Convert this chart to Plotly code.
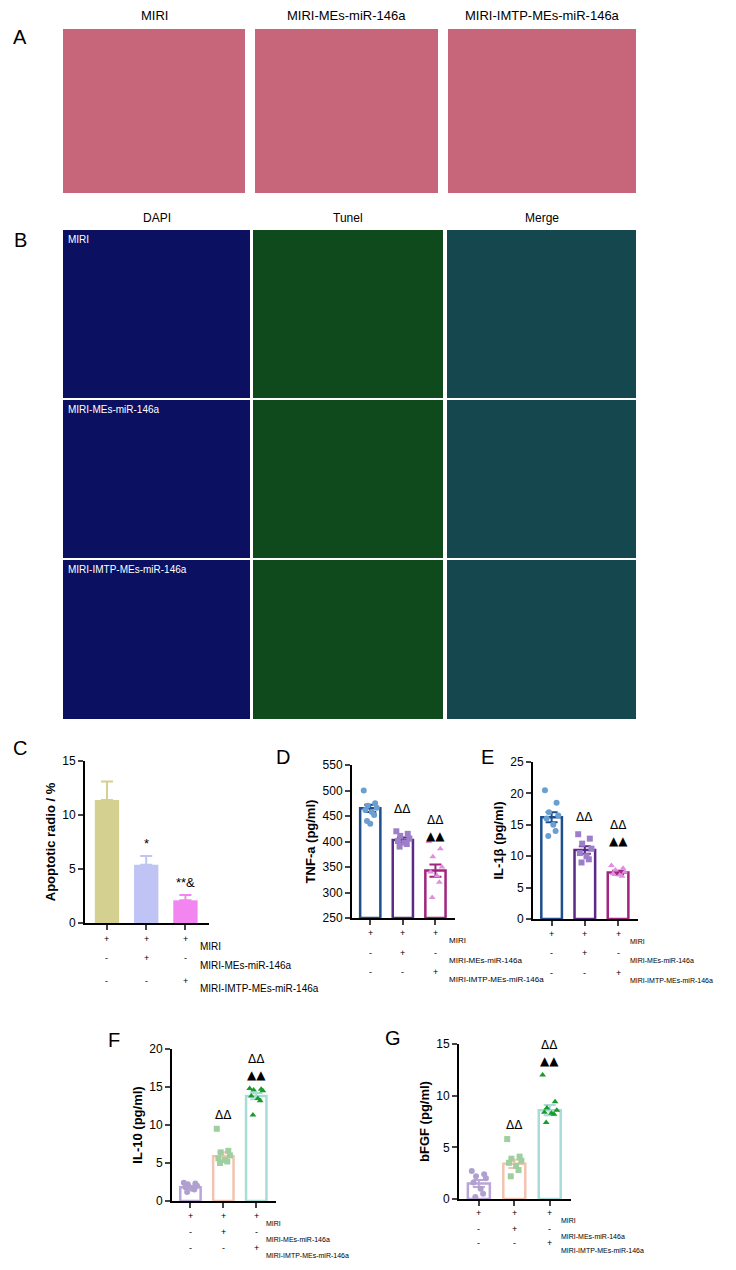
import plotly.graph_objects as go

W, H = 736, 1270
PAGE_PAD = 8  # default body margin of the html page

# ---- panel A / B labels (microscopy images shown as plain tiles) ----
he_titles = ["MIRI", "MIRI-MEs-miR-146a", "MIRI-IMTP-MEs-miR-146a"]
stain_titles = ["DAPI", "Tunel", "Merge"]
stain_colors = ["#0b1060", "#0f4a1c", "#15474f"]
he_color = "#c7667a"

# ---- panel data ----
groups = [0, 1, 2]
row_names = ["MIRI", "MIRI-MEs-miR-146a", "MIRI-IMTP-MEs-miR-146a"]
row_signs = [["+", "+", "+"], ["-", "+", "-"], ["-", "-", "+"]]

apo_mean = [11.4, 5.4, 2.1]
apo_err = [1.7, 0.8, 0.5]
apo_marks = ["", "*", "**&"]

tnf_mean = [465, 403, 343]
tnf_err = [7, 5, 12]
tnf_pts = [[500, 475, 470, 466, 462, 458, 452, 440, 435],
           [420, 415, 411, 406, 401, 398, 395, 390],
           [400, 386, 370, 350, 340, 333, 320, 290]]

il1_mean = [16.2, 11.0, 7.4]
il1_err = [0.8, 0.6, 0.3]
il1_pts = [[20.5, 18.5, 17.0, 16.5, 16.0, 15.0, 14.0, 13.2],
           [13.5, 12.8, 12.0, 11.2, 10.5, 10.0, 9.5, 9.0],
           [8.5, 8.1, 7.8, 7.5, 7.2, 7.0, 6.8]]

il10_mean = [1.8, 5.9, 13.8]
il10_err = [0.2, 0.5, 0.4]
il10_pts = [[2.4, 2.3, 2.2, 2.0, 1.8, 1.6, 1.5, 1.2],
            [9.5, 6.6, 6.4, 6.0, 5.6, 5.4, 5.2, 5.0],
            [14.8, 14.7, 14.6, 14.5, 13.8, 13.5, 13.2, 11.3]]

bfgf_mean = [1.5, 3.4, 8.6]
bfgf_err = [0.35, 0.4, 0.5]
bfgf_pts = [[2.7, 2.4, 2.2, 2.0, 1.6, 1.0, 0.5, 0.2],
            [5.8, 4.1, 3.9, 3.7, 3.5, 3.2, 2.8, 2.2],
            [12.0, 9.4, 8.8, 8.6, 8.4, 8.3, 8.2, 7.4]]
jitter = [-0.2, 0.15, -0.08, 0.2, -0.15, 0.05, 0.12, -0.1, 0.0]

FONT = "Liberation Sans"
fig = go.Figure()
shapes, annos = [], []


def px_x(x):
    return (x - PAGE_PAD) / W


def px_y(y):
    return 1 - (y - PAGE_PAD) / H


def tile(x0, y0, x1, y1, color):
    shapes.append(dict(type="rect", xref="paper", yref="paper", x0=px_x(x0), x1=px_x(x1),
                       y0=px_y(y1), y1=px_y(y0), fillcolor=color, line=dict(width=0)))


def text(x, y, s, size=12, color="black", xanchor="center"):
    annos.append(dict(x=px_x(x), y=px_y(y), xref="paper", yref="paper", text=s, showarrow=False,
                      font=dict(size=size, color=color, family=FONT), xanchor=xanchor, yanchor="middle"))


# panel A
text(20, 37, "A", 20)
for i, (x0, x1) in enumerate([(63, 245), (255, 438), (448, 636)]):
    text((x0 + x1) / 2, 16, he_titles[i], 13)
    tile(x0, 29, x1, 193, he_color)
# panel B
text(20, 240, "B", 20)
cols = [(63, 250), (253, 443), (447, 636)]
rows = [(230, 398), (400, 558), (560, 719)]
for j, (x0, x1) in enumerate(cols):
    text((x0 + x1) / 2, 218, stain_titles[j], 12)
    for (y0, y1) in rows:
        tile(x0, y0, x1, y1, stain_colors[j])
for k, (y0, y1) in enumerate(rows):
    text(66, y0 + 9, he_titles[k], 10, "white", "left")

panels = [
    dict(n=1, L="C", lab=(20, 748), ax=(85, 209), ay=(761, 923), rng=[0, 15], dt=5,
         title="Apoptotic radio / %", mean=apo_mean, err=apo_err, pts=None,
         fill=["#d4d08f", "#c0c4f4", "#f385f0"], line=["#d4d08f", "#c0c4f4", "#f385f0"],
         pc=None, rows_y=(946, 965, 988), lab_x=198, lab_size=10),
    dict(n=2, L="D", lab=(283, 757), ax=(352, 455), ay=(765, 918), rng=[250, 550], dt=50,
         title="TNF-a (pg/ml)", mean=tnf_mean, err=tnf_err, pts=tnf_pts,
         fill=["white"] * 3, line=["#1f4e8c", "#5b2a86", "#a0257f"],
         pc=["#6a9fd0", "#9d7fc9", "#e08ee0"], rows_y=(940, 960, 979), lab_x=447, lab_size=8),
    dict(n=3, L="E", lab=(487, 757), ax=(533, 638), ay=(762, 919), rng=[0, 25], dt=5,
         title="IL-1β (pg/ml)", mean=il1_mean, err=il1_err, pts=il1_pts,
         fill=["white"] * 3, line=["#1f4e8c", "#5b2a86", "#a0257f"],
         pc=["#6a9fd0", "#9d7fc9", "#e08ee0"], rows_y=(941, 960, 980), lab_x=628, lab_size=7),
    dict(n=4, L="F", lab=(114, 1040), ax=(172, 276), ay=(1049, 1201), rng=[0, 20], dt=5,
         title="IL-10 (pg/ml)", mean=il10_mean, err=il10_err, pts=il10_pts,
         fill=["white"] * 3, line=["#b9a6d6", "#f2c3b0", "#a8dcd8"],
         pc=["#b0a0d0", "#9fcf9f", "#1a9a2a"], rows_y=(1223, 1239, 1255), lab_x=264, lab_size=7),
    dict(n=5, L="G", lab=(393, 1038), ax=(459, 571), ay=(1044, 1199), rng=[0, 15], dt=5,
         title="bFGF (pg/ml)", mean=bfgf_mean, err=bfgf_err, pts=bfgf_pts,
         fill=["white"] * 3, line=["#b9a6d6", "#f2c3b0", "#a8dcd8"],
         pc=["#b0a0d0", "#9fcf9f", "#1a9a2a"], rows_y=(1220, 1236, 1250), lab_x=559, lab_size=7),
]
symbols = ["circle", "square", "triangle-up"]

for p in panels:
    n = p["n"]
    xa, ya = ("x%d" % n if n > 1 else "x"), ("y%d" % n if n > 1 else "y")
    xkey, ykey = ("xaxis%d" % n if n > 1 else "xaxis"), ("yaxis%d" % n if n > 1 else "yaxis")
    base = p["rng"][0]
    fig.add_trace(go.Bar(x=groups, y=[m - base for m in p["mean"]], base=base, width=0.62,
                         marker=dict(color=p["fill"], line=dict(color=p["line"], width=0 if p["pts"] is None else 2.5)),
                         xaxis=xa, yaxis=ya, showlegend=False))
    for g in groups:
        ec = p["line"][g]
        fig.add_trace(go.Scatter(x=[g], y=[p["mean"][g]], mode="markers", marker=dict(size=1, color=ec),
                                 error_y=dict(type="data", array=[p["err"][g]],
                                              arrayminus=[p["err"][g] if p["pts"] else 0],
                                              color=ec, thickness=2, width=6),
                                 xaxis=xa, yaxis=ya, showlegend=False))
        if p["pts"]:
            vals = p["pts"][g]
            fig.add_trace(go.Scatter(x=[g + jitter[i] for i in range(len(vals))], y=vals, mode="markers",
                                     marker=dict(symbol=symbols[g], size=6, color=p["pc"][g]),
                                     xaxis=xa, yaxis=ya, showlegend=False))
    fig.layout[xkey] = dict(domain=[px_x(p["ax"][0]), px_x(p["ax"][1])], range=[-0.56, 2.6],
                            anchor=ya, showline=True, linecolor="black", linewidth=2,
                            tickvals=groups, ticktext=["", "", ""], ticks="outside", ticklen=5,
                            tickwidth=1.5, showgrid=False, zeroline=False, fixedrange=True)
    fig.layout[ykey] = dict(domain=[px_y(p["ay"][1]), px_y(p["ay"][0])], range=p["rng"], dtick=p["dt"],
                            anchor=xa, showline=True, linecolor="black", linewidth=2, ticks="outside",
                            ticklen=5, tickwidth=1.5, showgrid=False, zeroline=False,
                            tickfont=dict(size=12, family=FONT),
                            title=dict(text="<b>%s</b>" % p["title"], font=dict(size=13, family=FONT), standoff=4))
    text(p["lab"][0], p["lab"][1], p["L"], 20)
    # +/- table under axis
    for r in range(3):
        for g in groups:
            annos.append(dict(x=g, xref=xa, y=px_y(p["rows_y"][r]), yref="paper", text=row_signs[r][g],
                              showarrow=False, font=dict(size=9, family=FONT, color="black")))
        text(p["lab_x"], p["rows_y"][r], row_names[r], p["lab_size"], "black", "left")
    # significance marks
    span = p["rng"][1] - p["rng"][0]
    for g in groups:
        top = max(p["pts"][g]) if p["pts"] and g > 0 else p["mean"][g] + p["err"][g]
        if p["pts"] is None:
            if apo_marks[g]:
                annos.append(dict(x=g, y=top + span * 0.02, xref=xa, yref=ya, text=apo_marks[g], showarrow=False,
                                  yanchor="bottom", font=dict(size=13, family=FONT)))
            continue
        if g == 0:
            continue
        if p["L"] in ("D", "E"):
            top = p["mean"][g] + p["err"][g] + span * 0.1
        s = "ΔΔ" if g == 1 else "ΔΔ<br>▲▲"
        annos.append(dict(x=g, y=top + span * 0.03, xref=xa, yref=ya, text=s, showarrow=False,
                          yanchor="bottom", font=dict(size=12, family="DejaVu Sans")))

fig.update_layout(width=W, height=H, margin=dict(l=0, r=0, t=0, b=0, autoexpand=False), plot_bgcolor="white",
                  paper_bgcolor="white", shapes=shapes, annotations=annos, showlegend=False,
                  font=dict(family=FONT, color="black"))
fig.write_html("out.html")
